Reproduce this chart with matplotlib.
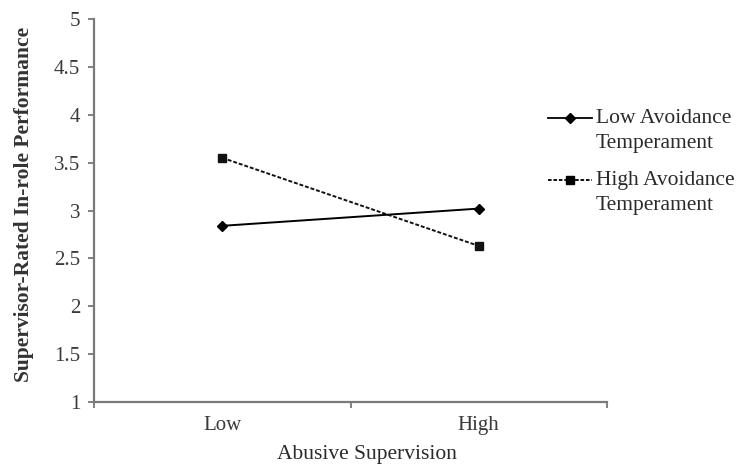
import matplotlib
matplotlib.use('Agg')
import matplotlib.pyplot as plt
from matplotlib.lines import Line2D

plt.rcParams['font.family'] = ['Liberation Serif', 'DejaVu Serif']

categories = ['Low', 'High']
low_avoid = [2.84, 3.02]
high_avoid = [3.55, 2.63]
y_ticks = [1, 1.5, 2, 2.5, 3, 3.5, 4, 4.5, 5]
y_labels = ['1', '1.5', '2', '2.5', '3', '3.5', '4', '4.5', '5']
series_names = ['Low Avoidance\nTemperament', 'High Avoidance\nTemperament']

W, H = 743, 466
fig = plt.figure(figsize=(W/100, H/100), dpi=100)
ax = fig.add_axes([94/W, 1-402/H, (607-94)/W, (402-19)/H])

xpos = [0.5, 1.5]
dash = (0, (2, 1))
ax.plot(xpos, low_avoid, color='black', lw=1.4, marker='D', ms=5.5)
ax.plot(xpos, high_avoid, color='#111111', lw=1.4, ls=dash, marker='s', ms=6)

ax.set_xlim(0, 2)
ax.set_ylim(1, 5)
ax.set_yticks(y_ticks)
ax.set_yticklabels(y_labels)
ax.set_xticks([0, 1, 2])
ax.set_xticklabels([])
ax.set_xticks(xpos, minor=True)
ax.set_xticklabels(categories, minor=True)
ax.tick_params(axis='both', which='major', length=4, width=1.3, color='#777777',
               labelsize=15, labelcolor='#3a3a3a', pad=6)
ax.tick_params(axis='x', which='minor', length=0, pad=10, labelsize=15, labelcolor='#3a3a3a')

for side in ['top', 'right']:
    ax.spines[side].set_visible(False)
for side in ['left', 'bottom']:
    ax.spines[side].set_color('#7a7a7a')
    ax.spines[side].set_linewidth(1.6)

ax.set_xlabel('Abusive Supervision', fontsize=15.5, color='#2a2a2a')
ax.xaxis.set_label_coords(0.533, -43/383)
ax.set_ylabel('Supervisor-Rated In-role Performance', fontsize=15.5,
              fontweight='bold', color='#333333')
ax.yaxis.set_label_coords(-60/513, 0.517)

# legend drawn by hand so the key sits on the first text line, as in the reference
leg_styles = [dict(ls='-', marker='D', ms=5), dict(ls=dash, marker='s', ms=6)]
leg_y = [118, 180]
for name, st, yy in zip(series_names, leg_styles, leg_y):
    fy = 1 - yy/H
    fig.add_artist(Line2D([548/W, 592/W], [fy, fy], color='black', lw=1.3,
                          ls=st['ls'], transform=fig.transFigure))
    fig.add_artist(Line2D([570/W], [fy], color='black', marker=st['marker'],
                          ms=st['ms'], ls='none', transform=fig.transFigure))
    fig.text(596/W, 1 - (yy - 9)/H, name, fontsize=15.5, color='#2a2a2a',
             va='top', linespacing=1.42, transform=fig.transFigure)

fig.savefig('out.png', dpi=100)
